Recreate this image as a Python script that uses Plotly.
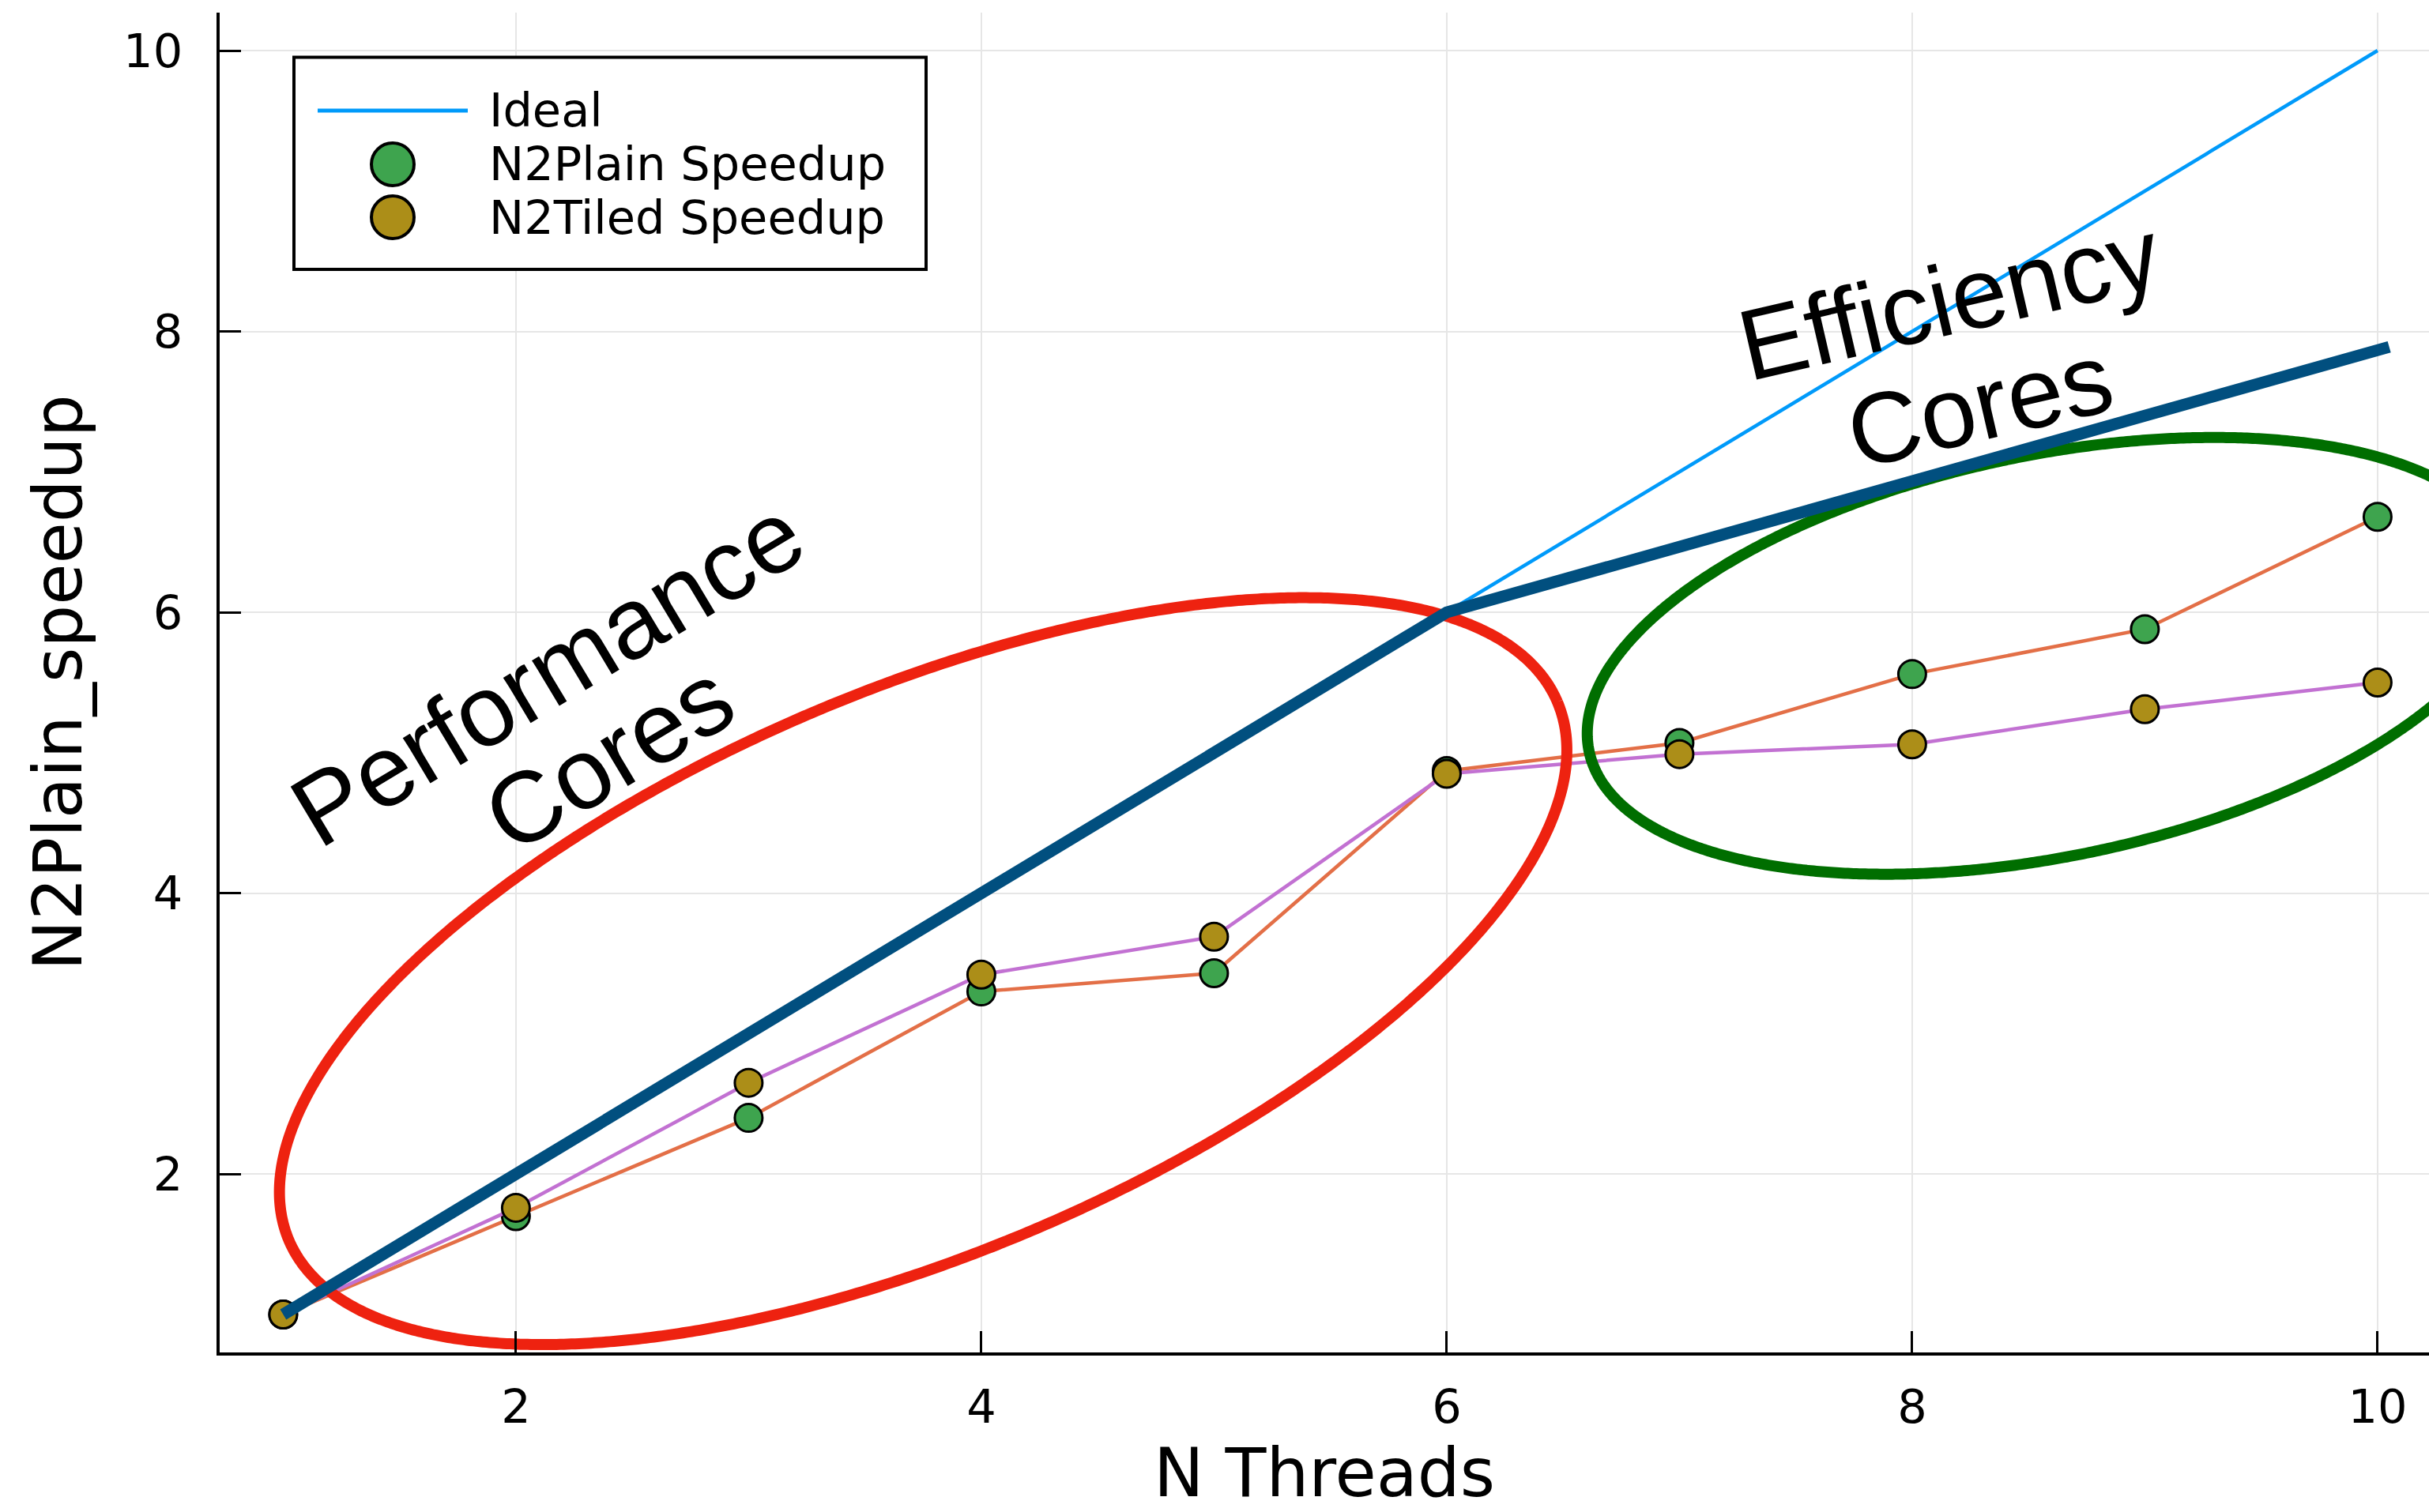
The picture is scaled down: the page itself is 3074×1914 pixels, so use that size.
import numpy as np
import plotly.graph_objects as go

# ---------------- data ----------------
threads = [1, 2, 3, 4, 5, 6, 7, 8, 9, 10]
ideal = [1, 2, 3, 4, 5, 6, 7, 8, 9, 10]
plain_speedup = [1.00, 1.70, 2.40, 3.30, 3.43, 4.87, 5.07, 5.56, 5.88, 6.68]
tiled_speedup = [1.00, 1.76, 2.65, 3.42, 3.69, 4.85, 4.99, 5.06, 5.31, 5.50]

series_names = ["Ideal", "N2Plain Speedup", "N2Tiled Speedup"]

# hand-drawn overlay: trend line (data coords)
trend_x = [1.0, 6.0, 10.05]
trend_y = [1.0, 6.0, 7.89]

# overlay labels
perf_labels = ["Performance", "Cores"]
eff_labels = ["Efficiency", "Cores"]

# ---------------- layout geometry ----------------
W, H = 3074, 1914
ML, MR, MT, MB = 278, 0, 16, 202
PW, PH = W - ML - MR, H - MT - MB
XR = [0.727, 10.221]
YR = [0.73, 10.27]
px_x = PW / (XR[1] - XR[0])
px_y = PH / (YR[1] - YR[0])


def ellipse(cx, cy, a_px, b_px, theta_deg, n=900):
    t = np.linspace(0, 2 * np.pi, n)
    th = np.radians(theta_deg)
    dx = a_px * np.cos(th) * np.cos(t) - b_px * np.sin(th) * np.sin(t)
    dy = a_px * np.sin(th) * np.cos(t) + b_px * np.cos(th) * np.sin(t)
    return cx + dx / px_x, cy + dy / px_y


def pxx(p):  # page pixel -> paper x
    return (p - ML) / PW


def pxy(p):  # page pixel -> paper y
    return (H - MB - p) / PH


ex_r, ey_r = ellipse(3.75, 3.445, 872, 356, 23.0)
ex_g, ey_g = ellipse(8.59, 5.69, 595, 254, 11.7)

C_IDEAL = "#009AFA"
C_PLAIN_LINE = "#E36F47"
C_PLAIN = "#3EA44E"
C_TILED_LINE = "#C271D2"
C_TILED = "#AC8E18"

fig = go.Figure()
fig.add_trace(go.Scatter(x=threads, y=ideal, mode="lines", name=series_names[0],
                         line=dict(color=C_IDEAL, width=4.5)))
fig.add_trace(go.Scatter(x=threads, y=plain_speedup, mode="lines", showlegend=False,
                         line=dict(color=C_PLAIN_LINE, width=4.5)))
fig.add_trace(go.Scatter(x=threads, y=plain_speedup, mode="markers", name=series_names[1],
                         marker=dict(color=C_PLAIN, size=35, line=dict(color="black", width=3))))
fig.add_trace(go.Scatter(x=threads, y=tiled_speedup, mode="lines", showlegend=False,
                         line=dict(color=C_TILED_LINE, width=4.5)))
fig.add_trace(go.Scatter(x=threads, y=tiled_speedup, mode="markers", name=series_names[2],
                         marker=dict(color=C_TILED, size=35, line=dict(color="black", width=3))))
fig.add_trace(go.Scatter(x=ex_r, y=ey_r, mode="lines", showlegend=False, hoverinfo="skip",
                         line=dict(color="#EE2210", width=14, simplify=False)))
fig.add_trace(go.Scatter(x=ex_g, y=ey_g, mode="lines", showlegend=False, hoverinfo="skip",
                         line=dict(color="#006E00", width=14, simplify=False)))
fig.add_trace(go.Scatter(x=trend_x, y=trend_y, mode="lines", showlegend=False, hoverinfo="skip",
                         line=dict(color="#014F7F", width=15)))

ann_font = dict(family="Liberation Sans, Arial, sans-serif", size=127, color="black")
annotations = [
    dict(x=2.136, y=5.575, text=perf_labels[0], textangle=-31),
    dict(x=2.40, y=4.97, text=perf_labels[1], textangle=-31),
    dict(x=8.16, y=8.23, text=eff_labels[0], textangle=-13),
    dict(x=8.29, y=7.475, text=eff_labels[1], textangle=-13),
]
for a in annotations:
    a.update(xref="x", yref="y", showarrow=False, font=ann_font,
             xanchor="center", yanchor="middle")

# ---------------- legend (drawn in the Julia/GR style) ----------------
leg_font = dict(family="DejaVu Sans", size=59, color="black")
leg_rows = [140, 208, 275]
shapes = [
    dict(type="rect", xref="paper", yref="paper",
         x0=pxx(372), x1=pxx(1172), y0=pxy(341), y1=pxy(72.5),
         fillcolor="white", line=dict(color="black", width=4), layer="above"),
    dict(type="line", xref="paper", yref="paper",
         x0=pxx(402), x1=pxx(592), y0=pxy(leg_rows[0]), y1=pxy(leg_rows[0]),
         line=dict(color=C_IDEAL, width=5), layer="above"),
]
for row, col in zip(leg_rows[1:], [C_PLAIN, C_TILED]):
    shapes.append(dict(type="circle", xref="paper", yref="paper",
                       xsizemode="pixel", ysizemode="pixel",
                       xanchor=pxx(497), yanchor=pxy(row),
                       x0=-27, x1=27, y0=-27, y1=27,
                       fillcolor=col, line=dict(color="black", width=4), layer="above"))
for row, name in zip(leg_rows, series_names):
    annotations.append(dict(xref="paper", yref="paper", x=pxx(617), y=pxy(row),
                            text=name, showarrow=False, xanchor="left", yanchor="middle",
                            font=leg_font))

axis_common = dict(
    showgrid=True, gridcolor="#E6E6E6", gridwidth=2,
    zeroline=False, showline=True, linecolor="black", linewidth=4,
    ticks="inside", ticklen=27, tickwidth=3, tickcolor="black",
    tickfont=dict(family="DejaVu Sans", size=59, color="black"),
    mirror=False,
)

fig.update_layout(
    width=W, height=H,
    margin=dict(l=ML, r=MR, t=MT, b=MB),
    paper_bgcolor="white", plot_bgcolor="white",
    font=dict(family="DejaVu Sans", color="black"),
    xaxis=dict(range=XR, tickvals=[2, 4, 6, 8, 10], ticklabelstandoff=14,
               title=dict(text="N Threads", font=dict(size=85), standoff=30),
               **axis_common),
    yaxis=dict(range=YR, tickvals=[2, 4, 6, 8, 10], ticklabelstandoff=31,
               title=dict(text="N2Plain_speedup", font=dict(size=85), standoff=25),
               **axis_common),
    annotations=annotations,
    shapes=shapes,
    showlegend=False,
)

fig.write_html("out.html")
